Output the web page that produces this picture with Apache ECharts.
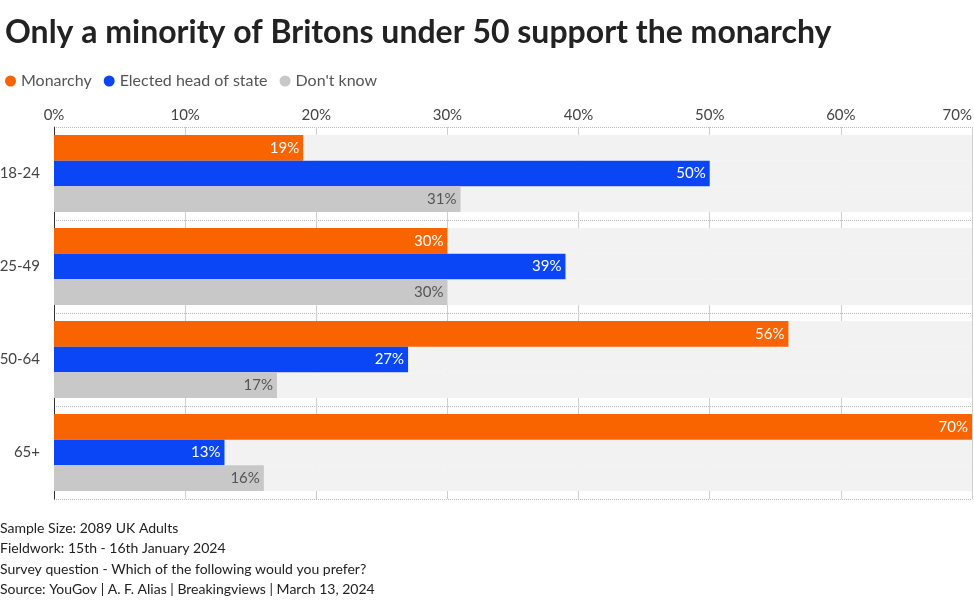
<!DOCTYPE html>
<html><head><meta charset="utf-8">
<script src="https://cdn.jsdelivr.net/npm/echarts@6/dist/echarts.min.js"></script>
<style>html,body{margin:0;padding:0;background:#fff}#c{width:974px;height:600px}</style>
</head><body><div id="c"></div>
<script>
const categories = ['18-24','25-49','50-64','65+'];
const monarchy = [19,30,56,70];
const elected = [50,39,27,13];
const dontKnow = [31,30,17,16];
const xTicks = [0,10,20,30,40,50,60,70];
const F = 'Lato, "Noto Sans", sans-serif';
function s(name, data, color, labelColor){
  return {name, type:'bar', data, barGap:'0%', barCategoryGap:'17%',
    itemStyle:{color}, showBackground:true, backgroundStyle:{color:'#f2f2f2'},
    label:{show:true, position:'insideRight', formatter:'{c}%', color:labelColor, fontSize:15, fontFamily:F, distance:4}};
}
const chart = echarts.init(document.getElementById('c'));
chart.setOption({
  animation:false,
  title:{text:'Only a minority of Britons under 50 support the monarchy', left:0, top:12,
    textStyle:{fontSize:32, fontWeight:'bold', color:'#222', fontFamily:F}},
  legend:{left:0, top:68, icon:'circle', itemWidth:11, itemHeight:11, itemGap:12,
    textStyle:{fontSize:16, color:'#555', fontFamily:F}},
  grid:{left:54, right:2, top:127, bottom:101, outerBoundsMode:'none', containLabel:false},
  xAxis:{type:'value', position:'top', min:0, max:70, interval:10,
    axisLabel:{formatter:v=>v+'%', fontSize:15, color:'#444', fontFamily:F, margin:4,
      alignMaxLabel:'right', customValues:xTicks},
    splitLine:{lineStyle:{color:'#cfcfcf'}}, axisLine:{show:false}},
  yAxis:{type:'category', data:categories, inverse:true,
    axisLine:{show:true, lineStyle:{color:'#333'}}, axisTick:{show:false},
    axisLabel:{fontSize:15, color:'#444', fontFamily:F, margin:14},
    splitLine:{show:true, lineStyle:{type:'dotted', color:'#bbb'}}},
  series:[
    s('Monarchy', monarchy, '#fa6400', '#fff'),
    s('Elected head of state', elected, '#0a46f5', '#fff'),
    s("Don't know", dontKnow, '#c8c8c8', '#555')
  ],
  graphic:[
    {type:'text', left:0, top:518, style:{text:'Sample Size: 2089 UK Adults\nFieldwork: 15th - 16th January 2024\nSurvey question - Which of the following would you prefer?\nSource: YouGov | A. F. Alias | Breakingviews | March 13, 2024',
      fontSize:14, lineHeight:20.5, fill:'#222', fontFamily:F}}
  ]
});
</script></body></html>
